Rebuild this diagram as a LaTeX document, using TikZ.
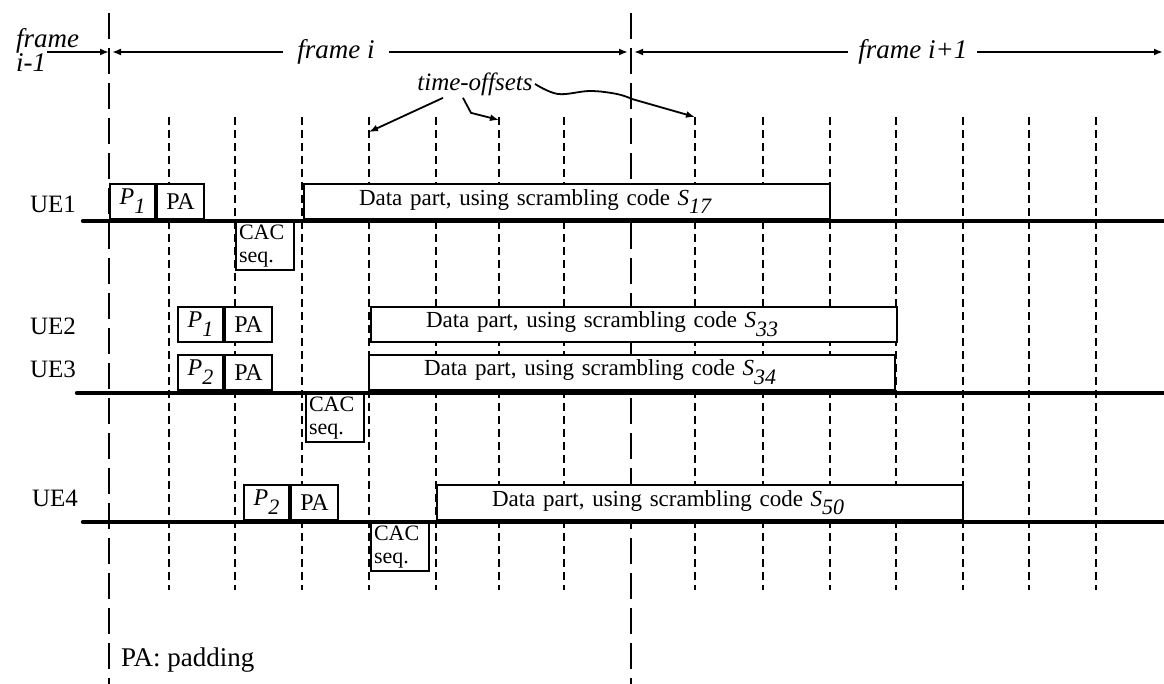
\documentclass[tikz,border=0pt]{standalone}
\usepackage{fontspec}
\setmainfont{Liberation Serif}
\usepackage{tikz}
\tikzstyle{frameline}=[line width=1.1pt, dash pattern=on 13pt off 4.5pt]
\tikzstyle{slotline}=[line width=1pt, dash pattern=on 4pt off 2.5pt]
\tikzstyle{ueline}=[line width=2.2pt, line cap=round]
\tikzstyle{hdarrow}=[line width=0.9pt]
\tikzstyle{pbox}=[draw, fill=white, line width=1pt,
                  minimum width=22.5pt, minimum height=17.5pt,
                  inner sep=0pt, anchor=south west,
                  font=\fontsize{12}{14}\selectfont]
\tikzstyle{pabox}=[pbox, minimum width=23.5pt]
\tikzstyle{cacbox}=[draw, fill=white, line width=1pt,
                    minimum width=29pt, minimum height=24pt,
                    text width=26pt, inner xsep=1.5pt, inner ysep=1pt,
                    align=left, anchor=north west,
                    font=\fontsize{11}{11.5}\selectfont]
\tikzstyle{databox}=[draw, fill=white, line width=1pt,
                     text width=208pt, inner xsep=27.5pt, inner ysep=0pt,
                     minimum height=17.5pt, align=left, anchor=south west,
                     font=\fontsize{11.5}{13}\selectfont]
\tikzstyle{framelbl}=[font=\fontsize{13.5}{12}\selectfont\itshape]
\tikzstyle{uelbl}=[font=\fontsize{12.5}{14}\selectfont]
\usetikzlibrary{positioning, calc, arrows.meta}
\newcommand{\lowsub}[2]{\textit{#1}\raisebox{-0.38em}{\fontsize{11}{11}\selectfont\textit{#2}}}

\begin{document}
\begin{tikzpicture}[x=0.5pt, y=-0.5pt, >={Latex[length=4.5pt, width=3.5pt]}]

\useasboundingbox (0,0) rectangle (1164,684);

% slot grid and frame borders
\foreach \sx [count=\i] in {169,235,302,369,436,499,564,695,763,830,896,963,1029,1096}
  \draw[slotline] (\sx,117) coordinate (s\i) -- (\sx,590);
\draw[frameline] (109,13) -- (109,684);
\draw[frameline] (631,13) -- (631,684);

% frame arrows
\coordinate (hm) at (47,52);
\coordinate (h0) at (109,52);
\coordinate (h1) at (631,52);
\coordinate (h2) at (1163,52);
\node[framelbl, anchor=west, align=left] (fim1) at (9,50) {frame\\i-1};
\draw[->, hdarrow] (hm) -- (h0);
\draw[<->, hdarrow] ([xshift=1.5pt]h0) -- node[framelbl, fill=white, inner xsep=7pt, pos=0.434] (lfi) {frame i} ([xshift=-1.5pt]h1);
\draw[<->, hdarrow] ([xshift=1.5pt]h1) -- node[framelbl, fill=white, inner xsep=5pt, pos=0.527] (lfi1) {frame i+1} (h2);

% time-offsets
\node[uelbl, font=\fontsize{12.5}{14}\selectfont\itshape, inner sep=1pt] (toff) at (475,84) {time-offsets};
\draw[->, hdarrow] ([xshift=-16pt]toff.south) -- ([yshift=-7.5pt]s4);
\draw[->, hdarrow] ([xshift=-6pt]toff.south) -- ++(8,15) -- ([yshift=-1.5pt]s6);
\draw[->, hdarrow] plot[smooth, tension=0.6] coordinates {(toff.east) (558,94) (590,91) (617,94) (632,99)} -- (s8);

% UE1
\node[uelbl] (ue1) at (53,204) {UE1};
\draw[ueline] (83,221) -- (1164,221);
\node[pbox] (p1a) at (109,220) {\lowsub{P}{1}};
\node[pabox, right=0pt of p1a] (pa1) {PA};
\node[cacbox] (cac1) at (235,221) {CAC\\seq.};
\node[databox] (dp1) at (303,220) {Data part, using scrambling code \lowsub{S}{17}};

% UE2 and UE3
\node[uelbl] (ue2) at (53,326) {UE2};
\node[uelbl] (ue3) at (53,369) {UE3};
\draw[ueline] (77,393) -- (1164,393);
\node[pbox] (p1b) at (177,343) {\lowsub{P}{1}};
\node[pabox, right=0pt of p1b] (pa2) {PA};
\node[pbox] (p2a) at (177,391) {\lowsub{P}{2}};
\node[pabox, right=0pt of p2a] (pa3) {PA};
\node[cacbox] (cac3) at (305,393) {CAC\\seq.};
\node[databox] (dp2) at (370,343) {Data part, using scrambling code \lowsub{S}{33}};
\node[databox] (dp3) at (368,391) {Data part, using scrambling code \lowsub{S}{34}};

% UE4
\node[uelbl] (ue4) at (55,498) {UE4};
\draw[ueline] (83,522) -- (1164,522);
\node[pbox] (p2b) at (243,521) {\lowsub{P}{2}};
\node[pabox, right=0pt of p2b] (pa4) {PA};
\node[cacbox] (cac4) at (370,522) {CAC\\seq.};
\node[databox] (dp4) at (436,521) {Data part, using scrambling code \lowsub{S}{50}};

% legend
\node[framelbl, font=\fontsize{13.5}{15}\selectfont, anchor=west] (pad) at (114,660) {PA: padding};

\end{tikzpicture}
\end{document}
